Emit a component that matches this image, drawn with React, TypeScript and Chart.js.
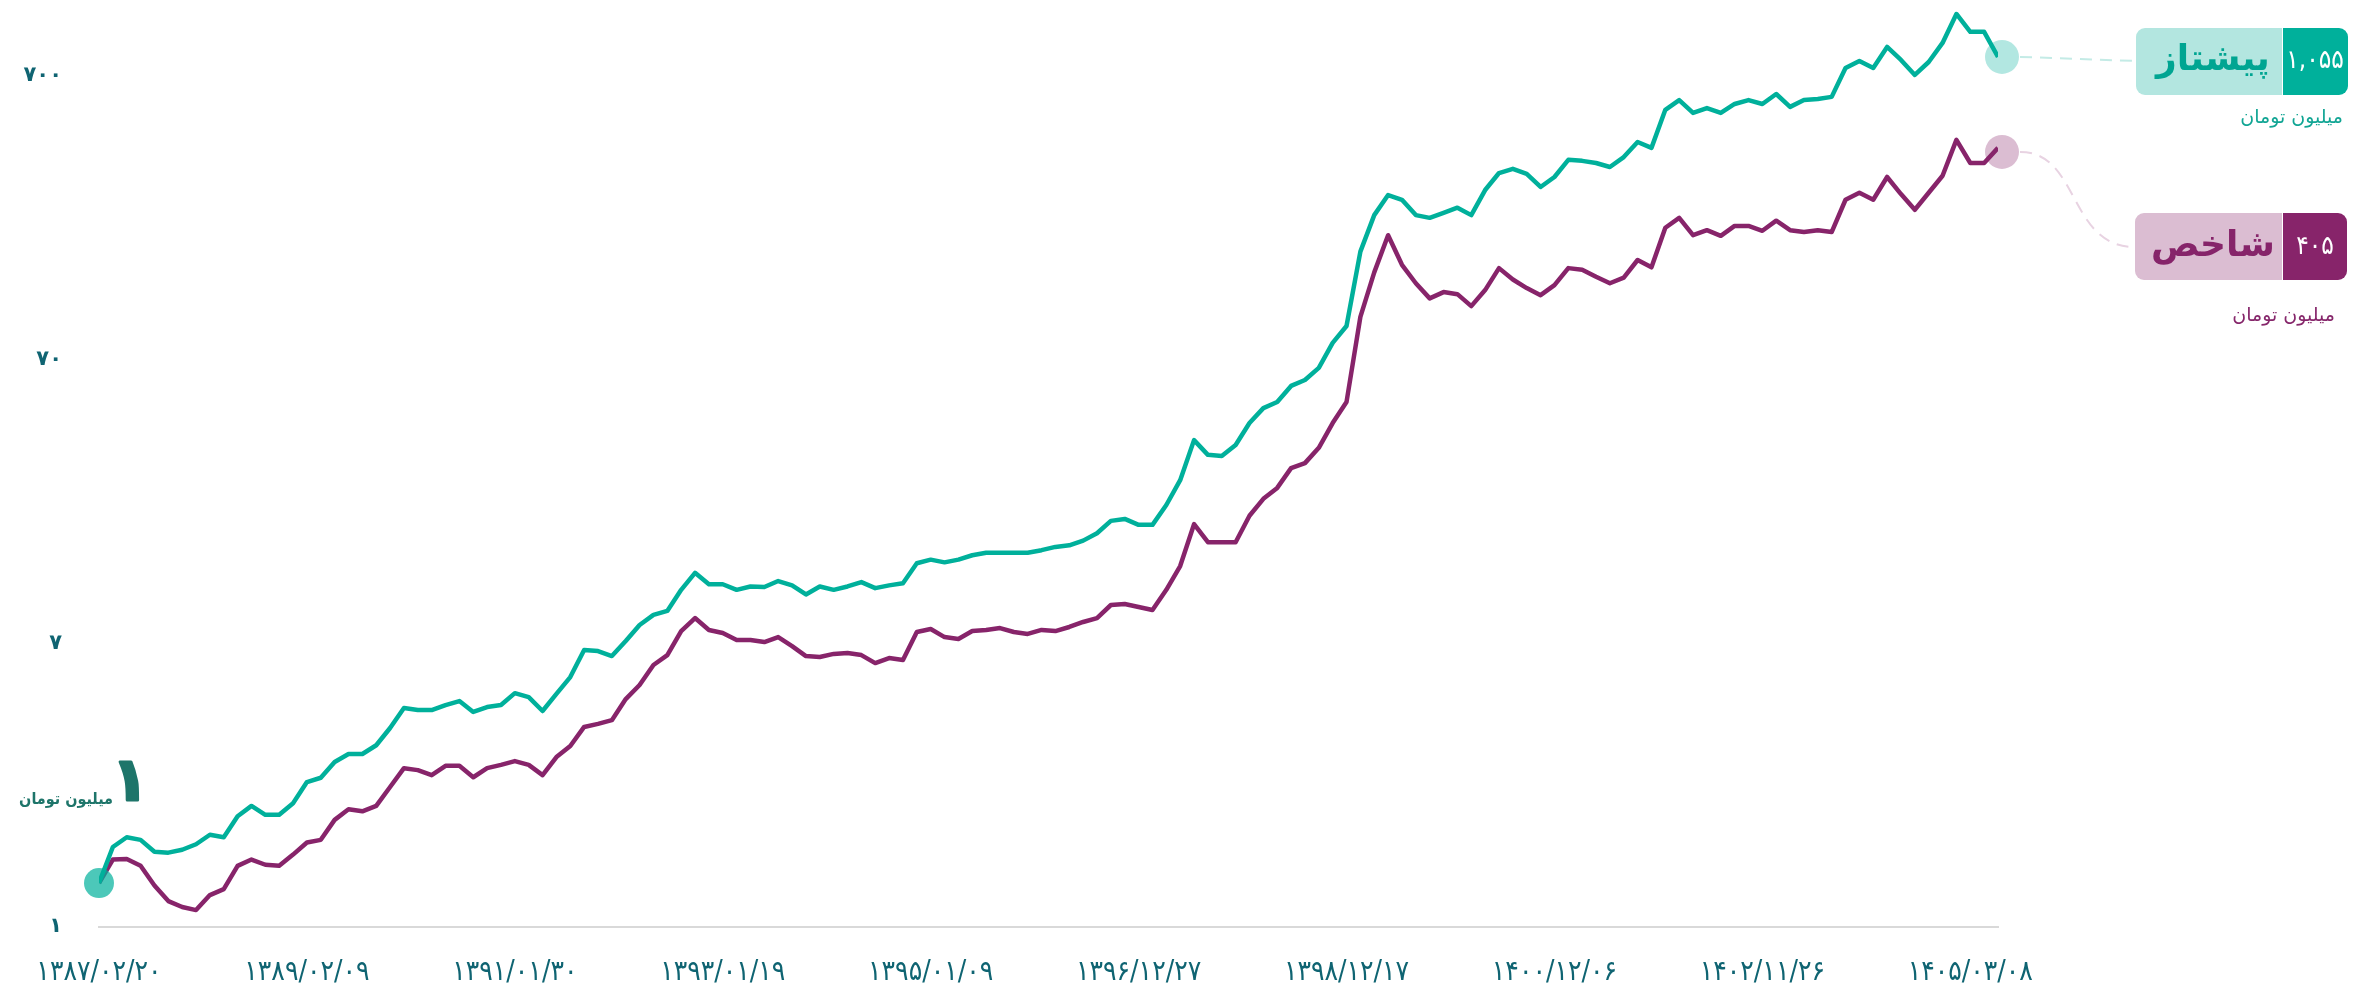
import React, { useEffect, useRef } from 'react';
import { Chart, registerables } from 'chart.js';

Chart.register(...registerables);

// ---- data ----
const xTickLabels = [
  '۱۳۸۷/۰۲/۲۰', '۱۳۸۹/۰۲/۰۹', '۱۳۹۱/۰۱/۳۰', '۱۳۹۳/۰۱/۱۹', '۱۳۹۵/۰۱/۰۹',
  '۱۳۹۶/۱۲/۲۷', '۱۳۹۸/۱۲/۱۷', '۱۴۰۰/۱۲/۰۶', '۱۴۰۲/۱۱/۲۶', '۱۴۰۵/۰۳/۰۸',
];
const xTickStep = 15;
const yTickValues = [0.7, 7, 70, 700];
const yTickLabels = ['۱', '۷', '۷۰', '۷۰۰'];
const yMin = 0.7;
const yMax = 1295;

const pishtazValues = [
  1.00, 1.34, 1.45, 1.42, 1.29, 1.28, 1.31, 1.37, 1.48, 1.45,
  1.72, 1.87, 1.74, 1.74, 1.91, 2.27, 2.35, 2.67, 2.85, 2.85,
  3.06, 3.52, 4.14, 4.07, 4.07, 4.24, 4.38, 4.01, 4.17, 4.24,
  4.67, 4.52, 4.04, 4.64, 5.32, 6.63, 6.57, 6.31, 7.13, 8.12,
  8.81, 9.10, 10.8, 12.4, 11.3, 11.3, 10.8, 11.1, 11.05, 11.6,
  11.2, 10.4, 11.1, 10.8, 11.1, 11.5, 10.95, 11.2, 11.4, 13.4,
  13.8, 13.5, 13.8, 14.3, 14.6, 14.6, 14.6, 14.6, 14.9, 15.3,
  15.5, 16.1, 17.1, 18.9, 19.2, 18.3, 18.3, 21.5, 26.3, 36.4,
  32.3, 32.0, 35.0, 41.8, 47.2, 49.6, 56.5, 59.3, 65.4, 80.1,
  91.9, 168, 226, 266, 256, 226, 221, 230, 240, 226,
  277, 318, 329, 316, 284, 308, 354, 351, 345, 334,
  362, 409, 390, 531, 575, 518, 539, 518, 557, 575,
  557, 604, 544, 575, 580, 590, 746, 790, 746, 885,
  796, 705, 783, 914, 1156, 1000, 1000, 816,
];

const shakhesValues = [
  1.00, 1.21, 1.215, 1.15, 0.98, 0.864, 0.823, 0.803, 0.907, 0.952,
  1.15, 1.21, 1.16, 1.15, 1.26, 1.39, 1.42, 1.67, 1.82, 1.79,
  1.87, 2.18, 2.54, 2.50, 2.40, 2.59, 2.59, 2.36, 2.54, 2.61,
  2.69, 2.61, 2.40, 2.78, 3.04, 3.55, 3.64, 3.75, 4.45, 4.99,
  5.87, 6.36, 7.73, 8.59, 7.80, 7.61, 7.19, 7.19, 7.07, 7.36,
  6.84, 6.31, 6.26, 6.42, 6.47, 6.36, 5.96, 6.21, 6.11, 7.67,
  7.86, 7.36, 7.25, 7.73, 7.80, 7.92, 7.67, 7.55, 7.80, 7.73,
  7.99, 8.32, 8.59, 9.55, 9.63, 9.40, 9.17, 10.8, 13.1, 18.4,
  15.9, 15.9, 15.9, 19.7, 22.6, 24.7, 29.0, 30.2, 34.2, 41.8,
  49.6, 98.9, 142, 192, 151, 130, 115, 121, 119, 108,
  123, 147, 134, 125, 118, 128, 147, 145, 137, 130,
  136, 157, 148, 204, 221, 192, 200, 191, 207, 207,
  199, 216, 200, 197, 200, 197, 256, 271, 256, 308,
  268, 236, 271, 311, 416, 345, 345, 390,
];

const seriesNames = ['پیشتاز', 'شاخص'];
const finalValueLabels = ['۱,۰۵۵', '۴۰۵'];
const unitLabel = 'میلیون تومان';
const startValueLabel = '۱';

// ---- styles ----
const TEAL = '#00b09b';
const PURPLE = '#87246a';
const FA = "'DejaVu Sans'";
const FAC = "'DejaVu Sans Condensed', 'DejaVu Sans'";
const TICK_COLOR = '#0f6472';

const annotPlugin = {
  id: 'annot',
  afterDatasetsDraw(chart: any) {
    const { ctx, scales } = chart;
    const xs = scales.x;
    const ys = scales.y;
    const n = pishtazValues.length - 1;
    ctx.save();

    // start marker
    const sx = xs.getPixelForValue(0);
    const sy = ys.getPixelForValue(pishtazValues[0]);
    ctx.fillStyle = 'rgba(0,176,155,0.7)';
    ctx.beginPath();
    ctx.arc(sx, sy, 15, 0, Math.PI * 2);
    ctx.fill();

    // start annotation
    ctx.direction = 'rtl';
    ctx.fillStyle = '#1e756a';
    ctx.strokeStyle = '#1e756a';
    ctx.lineWidth = 3;
    ctx.lineJoin = 'round';
    ctx.textBaseline = 'middle';
    ctx.textAlign = 'center';
    ctx.font = `bold 60px ${FA}`;
    ctx.fillText(startValueLabel, 130, 784);
    ctx.strokeText(startValueLabel, 130, 784);
    ctx.textAlign = 'right';
    ctx.font = `bold 16px ${FAC}`;
    ctx.fillText(unitLabel, 113, 800);

    // end markers
    const ex = xs.getPixelForValue(n) + 4;
    const ty = ys.getPixelForValue(pishtazValues[n]);
    const py = ys.getPixelForValue(shakhesValues[n]) + 4;
    ctx.fillStyle = 'rgba(0,176,155,0.3)';
    ctx.beginPath();
    ctx.arc(ex, ty, 17, 0, Math.PI * 2);
    ctx.fill();
    ctx.fillStyle = 'rgba(135,36,106,0.3)';
    ctx.beginPath();
    ctx.arc(ex, py, 17, 0, Math.PI * 2);
    ctx.fill();

    // connectors
    ctx.setLineDash([12, 8]);
    ctx.lineWidth = 2;
    ctx.strokeStyle = '#c4ebe6';
    ctx.beginPath();
    ctx.moveTo(ex + 18, ty);
    ctx.lineTo(2136, 61);
    ctx.stroke();
    ctx.strokeStyle = '#e8d3e2';
    ctx.beginPath();
    ctx.moveTo(ex + 18, py);
    ctx.bezierCurveTo(2080, py, 2068, 247, 2135, 247);
    ctx.stroke();
    ctx.setLineDash([]);

    // boxes
    const boxes = [
      { x: 2136, y: 28, cy: 61, light: '#b3e6e0', dark: TEAL, nameColor: '#00a592', sub: '#11a594', subY: 118, subX: 2343 },
      { x: 2135, y: 213, cy: 247, light: '#dbbdd2', dark: PURPLE, nameColor: '#86246a', sub: '#86276b', subY: 316, subX: 2335 },
    ];
    boxes.forEach((b, i) => {
      const w = 212, h = 67, split = 2282;
      ctx.fillStyle = b.light;
      ctx.beginPath();
      ctx.roundRect(b.x, b.y, split - b.x, h, [9, 0, 0, 9]);
      ctx.fill();
      ctx.fillStyle = b.dark;
      ctx.beginPath();
      ctx.roundRect(split + 1, b.y, b.x + w - split - 1, h, [0, 9, 9, 0]);
      ctx.fill();
      ctx.textBaseline = 'middle';
      ctx.textAlign = 'center';
      ctx.fillStyle = b.nameColor;
      ctx.font = `bold 36px ${FA}`;
      ctx.fillText(seriesNames[i], 2213, b.cy);
      ctx.fillStyle = '#ffffff';
      ctx.font = `26px ${FAC}`;
      ctx.fillText(finalValueLabels[i], 2315, b.cy);
      ctx.textAlign = 'right';
      ctx.fillStyle = b.sub;
      ctx.font = `19px ${FA}`;
      ctx.fillText(unitLabel, b.subX, b.subY);
    });
    ctx.restore();
  },
};

export default function App() {
  const ref = useRef<HTMLCanvasElement>(null);
  useEffect(() => {
    const idx = pishtazValues.map((_, i) => i);
    const chart = new Chart(ref.current as HTMLCanvasElement, {
      type: 'line',
      data: {
        labels: idx,
        datasets: [
          {
            label: seriesNames[0],
            data: idx.map((i) => ({ x: i, y: pishtazValues[i] })),
            borderColor: TEAL,
            borderWidth: 4.5,
            pointRadius: 0,
            tension: 0,
            borderJoinStyle: 'round',
            fill: false,
          },
          {
            label: seriesNames[1],
            data: idx.map((i) => ({ x: i, y: shakhesValues[i] })),
            borderColor: PURPLE,
            borderWidth: 4.5,
            pointRadius: 0,
            tension: 0,
            borderJoinStyle: 'round',
            fill: false,
          },
        ],
      },
      options: {
        animation: false,
        responsive: true,
        maintainAspectRatio: false,
        layout: { autoPadding: false, padding: { left: 0, right: 2364 - 1998, top: 0, bottom: 0 } },
        plugins: { legend: { display: false }, tooltip: { enabled: false } },
        scales: {
          x: {
            type: 'linear',
            min: 0,
            max: pishtazValues.length - 1,
            grid: { display: false, drawTicks: false },
            border: { display: true, color: '#d9d9d9', width: 2 },
            afterFit: (s: any) => {
              s.height = 60;
              s.paddingLeft = 0;
              s.paddingRight = 0;
            },
            afterBuildTicks: (s: any) => {
              s.ticks = xTickLabels.map((_, i) => ({ value: i * xTickStep }));
            },
            ticks: {
              autoSkip: false,
              maxRotation: 0,
              padding: 29,
              color: TICK_COLOR,
              font: { family: 'DejaVu Sans Condensed', size: 28 },
              callback: (v: any) => xTickLabels[Math.round(Number(v) / xTickStep)] ?? '',
            },
          },
          y: {
            type: 'logarithmic',
            bounds: 'data',
            min: yMin,
            max: yMax,
            grid: { display: false, drawTicks: false },
            border: { display: false },
            afterFit: (s: any) => {
              s.width = 99;
              s.paddingTop = 0;
              s.paddingBottom = 0;
            },
            afterBuildTicks: (s: any) => {
              s.ticks = yTickValues.map((v) => ({ value: v }));
              s.min = yMin;
              s.max = yMax;
            },
            ticks: {
              padding: 37,
              color: TICK_COLOR,
              font: { family: 'DejaVu Sans', size: 21, weight: 'bold' },
              callback: (v: any) => {
                const k = yTickValues.findIndex((t) => Math.abs(t - Number(v)) < 1e-6 * t + 1e-9);
                return k >= 0 ? yTickLabels[k] : '';
              },
            },
          },
        },
      },
      plugins: [annotPlugin],
    } as any);
    return () => chart.destroy();
  }, []);
  return (
    <div style={{ position: 'fixed', left: 0, top: 0, width: 2364, height: 987, background: '#ffffff' }}>
      <canvas ref={ref} />
    </div>
  );
}
